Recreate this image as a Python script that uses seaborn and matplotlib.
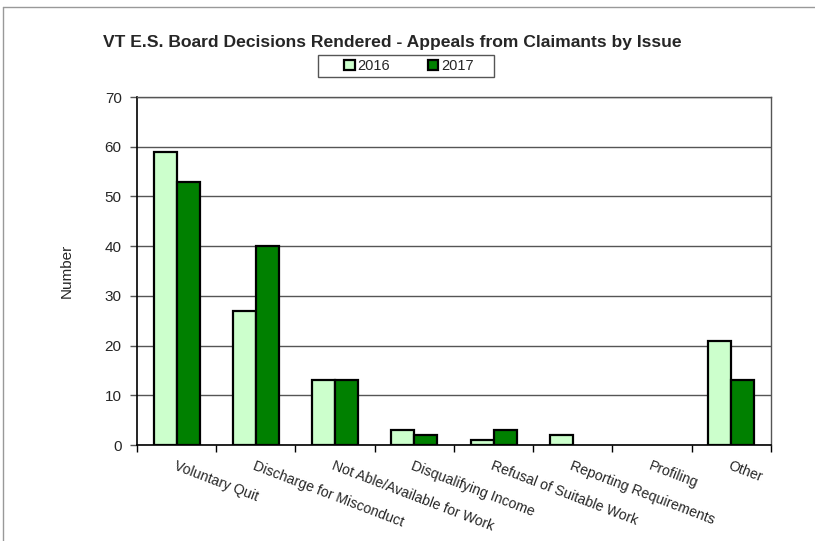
import numpy as np
import pandas as pd
import matplotlib
matplotlib.use("Agg")
import matplotlib.pyplot as plt
from matplotlib.lines import Line2D
from matplotlib.patches import Patch, Rectangle
import seaborn as sns

categories = [
    "Voluntary Quit",
    "Discharge for Misconduct",
    "Not Able/Available for Work",
    "Disqualifying Income",
    "Refusal of Suitable Work",
    "Reporting Requirements",
    "Profiling",
    "Other",
]
years = ["2016", "2017"]
values_2016 = [59, 27, 13, 3, 1, 2, 0, 21]
values_2017 = [53, 40, 13, 2, 3, 0, 0, 13]
y_ticks = [0, 10, 20, 30, 40, 50, 60, 70]

colors = {"2016": "#CCFFCC", "2017": "#008000"}

df = pd.DataFrame({
    "Issue": categories * 2,
    "Year": ["2016"] * len(categories) + ["2017"] * len(categories),
    "Number": values_2016 + values_2017,
})

sns.set_style("white")
plt.rcParams["font.family"] = ["Liberation Sans", "DejaVu Sans"]

fig = plt.figure(figsize=(8.15, 5.41), dpi=100)
ax = fig.add_axes([0.1681, 0.1774, 0.946 - 0.1681, 0.8207 - 0.1774])

sns.barplot(
    data=df, x="Issue", y="Number", hue="Year", order=categories,
    hue_order=years, palette=colors, saturation=1, width=0.58, edgecolor="black",
    linewidth=1.6, legend=False, ax=ax, zorder=3,
)
# zero-height bars are not drawn in the original
for p in ax.patches:
    if p.get_height() == 0:
        p.set_linewidth(0)

ax.set_ylim(0, 70)
ax.set_yticks(y_ticks)
ax.set_yticklabels([str(t) for t in y_ticks], fontsize=11)
ax.set_xlim(-0.5, len(categories) - 0.5)
ax.yaxis.grid(True, color="#555555", linewidth=1.0, zorder=0)
ax.xaxis.grid(False)

# category ticks at the boundaries, labels at the centres
ax.set_xticks(np.arange(-0.5, len(categories), 1.0))
ax.set_xticklabels([])
ax.tick_params(axis="x", direction="out", length=5, width=1, color="black", bottom=True)
ax.tick_params(axis="y", direction="out", length=5, width=1, color="#555555", left=True, pad=6)
for i, cat in enumerate(categories):
    ax.text(i, -2.8, cat, rotation=-21, rotation_mode="anchor",
            ha="left", va="top", fontsize=10.2)

for side in ["top", "right"]:
    ax.spines[side].set_visible(True)
    ax.spines[side].set_color("#555555")
    ax.spines[side].set_linewidth(1.0)
ax.spines["left"].set_color("black")
ax.spines["bottom"].set_color("black")
ax.spines["left"].set_linewidth(1.2)
ax.spines["bottom"].set_linewidth(1.2)

ax.set_xlabel("")
ax.set_ylabel("Number", fontsize=11, labelpad=22)

fig.text(0.481, 0.921, "VT E.S. Board Decisions Rendered - Appeals from Claimants by Issue",
         ha="center", va="center", fontsize=12.6, fontweight="bold")

handles = [Patch(facecolor=colors[y], edgecolor="black", linewidth=1.6, label=y) for y in years]
leg = fig.legend(handles=handles, loc="center", bbox_to_anchor=(0.502, 0.878), ncol=2,
                 frameon=False, fontsize=10.5, handlelength=0.7,
                 handleheight=0.7, handletextpad=0.2, columnspacing=2.6,
                 borderpad=0.35, borderaxespad=0)
# legend box, wider than its entries as in the original
fig.add_artist(Rectangle((318 / 815, 1 - 77 / 541), 176 / 815, 22 / 541,
                         transform=fig.transFigure, fill=False,
                         edgecolor="#555555", linewidth=1.0))

# outer partial frame of the chart area
fig.add_artist(Line2D([3 / 815, 1.0], [1 - 7 / 541, 1 - 7 / 541], color="#999999", linewidth=1.0))
fig.add_artist(Line2D([3 / 815, 3 / 815], [0.0, 1 - 7 / 541], color="#999999", linewidth=1.0))

fig.savefig("out.png", dpi=100)
